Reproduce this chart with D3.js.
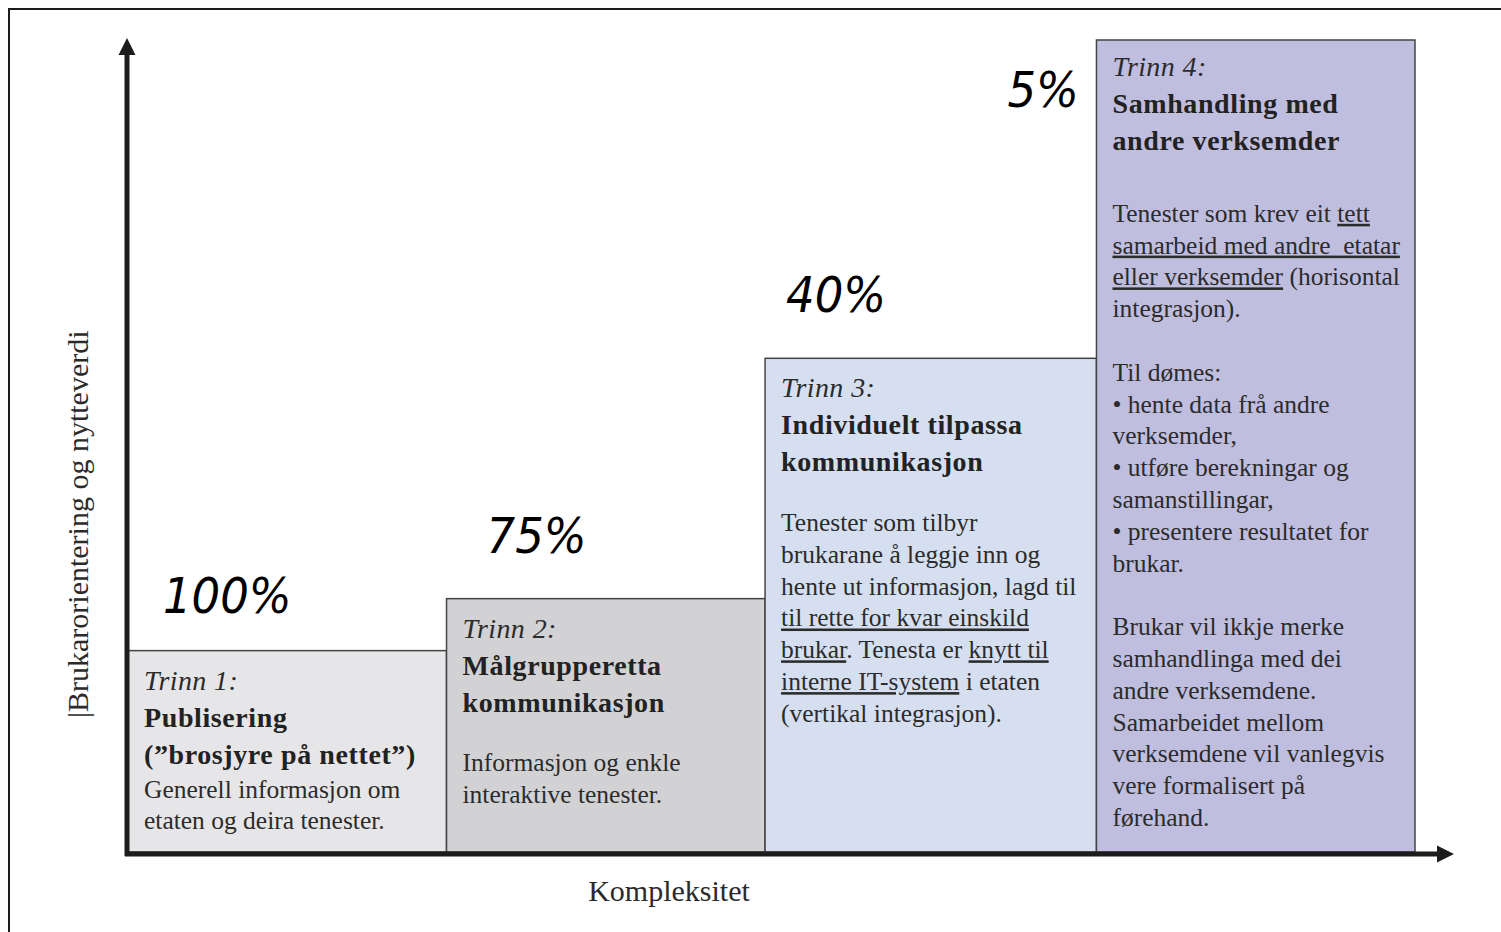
<!DOCTYPE html>
<html lang="nn">
<head>
<meta charset="UTF-8">
<title>Trinn i elektroniske tenester</title>
<script src="https://cdnjs.cloudflare.com/ajax/libs/d3/7.8.5/d3.min.js"></script>
<style>
    html, body { margin: 0; padding: 0; background: #fff; }
    svg { display: block; }
    .serif { font-family: "Liberation Serif", "Times New Roman", serif; fill: #2b2b2b; white-space: pre; }
    .pct { font-family: "DejaVu Sans", sans-serif; font-style: italic; fill: #000; }
</style>
</head>
<body>
<svg id="chart" width="1501" height="932"></svg>
<script>
    // Data
    const stageLabels = ["Trinn 1:", "Trinn 2:", "Trinn 3:", "Trinn 4:"];
    const stageTitles = [
        ["Publisering", "(”brosjyre på nettet”)"],
        ["Målgrupperetta", "kommunikasjon"],
        ["Individuelt tilpassa", "kommunikasjon"],
        ["Samhandling med", "andre verksemder"]
    ];
    // _text_ = underlined
    const stageTexts = [
        ["Generell informasjon om", "etaten og deira tenester."],
        ["", "Informasjon og enkle", "interaktive tenester."],
        ["", "Tenester som tilbyr", "brukarane å leggje inn og", "hente ut informasjon, lagd til",
         "_til rette for kvar einskild_", "_brukar_. Tenesta er _knytt til_", "_interne IT-system_ i etaten",
         "(vertikal integrasjon)."],
        ["", "Tenester som krev eit _tett_", "_samarbeid med andre  etatar_", "_eller verksemder_ (horisontal",
         "integrasjon).", "", "Til dømes:", "• hente data frå andre", "verksemder,", "• utføre berekningar og",
         "samanstillingar,", "• presentere resultatet for", "brukar.", "", "Brukar vil ikkje merke",
         "samhandlinga med dei", "andre verksemdene.", "Samarbeidet mellom", "verksemdene vil vanlegvis",
         "vere formalisert på", "førehand."]
    ];
    const shares = [100, 75, 40, 5];
    const userValue = [0.248, 0.312, 0.608, 1];          // height of each step
    const complexityEdges = [0, 0.99, 1.98, 3.01, 4];    // step boundaries along x
    const xTitle = "Kompleksitet";
    const yTitle = "|Brukarorientering og nytteverdi";

    // Styles / layout
    const stageFills = ["#e6e6e8", "#d2d2d4", "#d5dff0", "#c0bedf"];
    const pctNudge = [[35, -38], [40, -46], [21, -46], [-89, 67]];
    const headShift = [0, 0, 0, -3];
    const bodyShift = [0, -6, -6, 3];
    const axisColor = "#1c1c1c";

    const svg = d3.select("#chart");
    const x = d3.scaleLinear().domain([0, 4]).range([128, 1415]);
    const y = d3.scaleLinear().domain([0, 1]).range([852, 40]);

    // outer frame (top + left only)
    svg.append("path")
        .attr("d", "M9,932V9H1501")
        .attr("fill", "none")
        .attr("stroke", axisColor)
        .attr("stroke-width", 2);

    // Steps
    const steps = d3.range(stageLabels.length).map(i => ({
        i,
        x0: x(complexityEdges[i]),
        x1: x(complexityEdges[i + 1]),
        top: y(userValue[i])
    }));

    svg.append("g")
        .selectAll("rect")
        .data(steps)
        .join("rect")
        .attr("x", d => d.x0)
        .attr("y", d => d.top)
        .attr("width", d => d.x1 - d.x0)
        .attr("height", d => y(0) - d.top)
        .attr("fill", d => stageFills[d.i])
        .attr("stroke", "#444")
        .attr("stroke-width", 1.5);

    // Text inside each step
    const textGroups = svg.append("g")
        .selectAll("g")
        .data(steps)
        .join("g")
        .attr("transform", d => `translate(${d.x0 + 16},${d.top})`);

    textGroups.append("text")
        .attr("class", "serif")
        .attr("y", d => 39 + headShift[d.i])
        .attr("font-size", 28)
        .attr("font-style", "italic")
        .attr("letter-spacing", 0.4)
        .text(d => stageLabels[d.i]);

    textGroups.each(function (d) {
        const g = d3.select(this);
        const titles = stageTitles[d.i];
        titles.forEach((t, j) => {
            g.append("text")
                .attr("class", "serif")
                .attr("y", 76 + 37 * j + headShift[d.i])
                .attr("font-size", 28)
                .attr("font-weight", "bold")
                .attr("letter-spacing", 0.6)
                .style("fill", "#222")
                .text(t);
        });
        const bodyStart = 76 + 37 * (titles.length - 1) + 34 + bodyShift[d.i];
        stageTexts[d.i].forEach((line, k) => {
            if (!line) return;
            const t = g.append("text")
                .attr("class", "serif")
                .attr("y", bodyStart + 31.8 * k)
                .attr("font-size", 25.5);
            line.split("_").forEach((seg, s) => {
                if (!seg) return;
                t.append("tspan")
                    .attr("text-decoration", s % 2 ? "underline" : null)
                    .text(seg);
            });
        });
    });

    // Percentage labels
    svg.append("g")
        .selectAll("text")
        .data(steps)
        .join("text")
        .attr("class", "pct")
        .attr("font-size", 50)
        .attr("transform", d => `translate(${d.x0 + pctNudge[d.i][0]},${d.top + pctNudge[d.i][1]}) scale(0.9,1)`)
        .text(d => shares[d.i] + "%");

    // Axes with arrowheads
    const axisX = 127;
    const axisY = y(0) + 2;
    const yTip = y(1) - 2;
    const xTip = x(4) + 39;

    svg.append("line")
        .attr("x1", axisX).attr("y1", axisY + 2)
        .attr("x2", axisX).attr("y2", yTip + 14)
        .attr("stroke", axisColor).attr("stroke-width", 5);
    svg.append("path")
        .attr("d", `M${axisX},${yTip}L${axisX + 8.5},${yTip + 17}L${axisX - 8.5},${yTip + 17}Z`)
        .attr("fill", axisColor);

    svg.append("line")
        .attr("x1", axisX - 2).attr("y1", axisY)
        .attr("x2", xTip - 14).attr("y2", axisY)
        .attr("stroke", axisColor).attr("stroke-width", 5);
    svg.append("path")
        .attr("d", `M${xTip},${axisY}L${xTip - 17},${axisY - 8.5}L${xTip - 17},${axisY + 8.5}Z`)
        .attr("fill", axisColor);

    // Axis titles
    svg.append("text")
        .attr("class", "serif")
        .attr("x", 669)
        .attr("y", 901)
        .attr("text-anchor", "middle")
        .attr("font-size", 30)
        .text(xTitle);

    svg.append("text")
        .attr("class", "serif")
        .attr("transform", `translate(88,${y(0) - 134}) rotate(-90)`)
        .attr("font-size", 30)
        .text(yTitle);
</script>
</body>
</html>
